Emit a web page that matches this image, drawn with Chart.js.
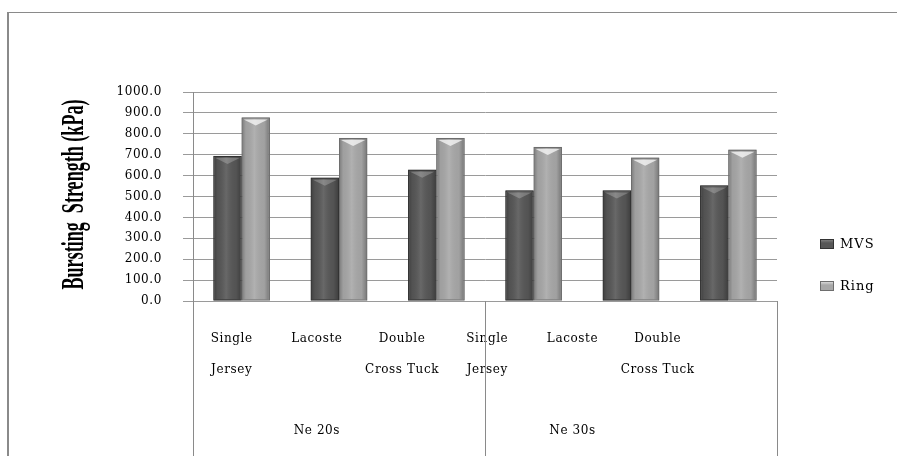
<!DOCTYPE html>
<html>
<head>
<meta charset="utf-8">
<script src="https://cdn.jsdelivr.net/npm/chart.js@4.4.1/dist/chart.umd.min.js"></script>
<style>
  html, body { margin: 0; padding: 0; background: #fff; }
  #wrap { width: 897px; height: 456px; }
</style>
</head>
<body>
<div id="wrap"><canvas id="chart"></canvas></div>
<script>
// data
const categories = [["Single", "Jersey"], ["Lacoste"], ["Double", "Cross Tuck"],
                    ["Single", "Jersey"], ["Lacoste"], ["Double", "Cross Tuck"]];
const groups = ["Ne 20s", "Ne 30s"];
const groupSpans = [[0, 2], [3, 5]];
const mvsValues = [694, 590, 628, 529, 529, 553];
const ringValues = [878, 780, 780, 737, 686, 724];
const yTitle = "Bursting  Strength (kPa)";

const serif = '"DejaVu Serif", serif';

// frame round the picture, and a bit of letter spacing for all tick text
const framePlugin = {
  id: "frame",
  beforeDraw(chart) {
    const ctx = chart.ctx;
    ctx.save();
    ctx.strokeStyle = "#8a8a8a";
    ctx.lineWidth = 1;
    ctx.beginPath();
    ctx.moveTo(7, 12.5);
    ctx.lineTo(chart.width, 12.5);
    ctx.stroke();
    ctx.lineWidth = 2;
    ctx.beginPath();
    ctx.moveTo(8, 12);
    ctx.lineTo(8, chart.height);
    ctx.stroke();
    ctx.restore();
    ctx.save();
    ctx.letterSpacing = "0.6px";
  },
  afterDraw(chart) {
    chart.ctx.restore();
  }
};

// cylinder-ish shading on top of each bar
const shadePlugin = {
  id: "shade",
  afterDatasetsDraw(chart) {
    const ctx = chart.ctx;
    ctx.save();
    chart.data.datasets.forEach((ds, di) => {
      chart.getDatasetMeta(di).data.forEach((el) => {
        const l = el.x - el.width / 2, r = el.x + el.width / 2;
        const t = el.y, b = el.base;
        const g = ctx.createLinearGradient(l, 0, r, 0);
        g.addColorStop(0, "rgba(0,0,0,0.28)");
        g.addColorStop(0.15, "rgba(0,0,0,0.05)");
        g.addColorStop(0.45, "rgba(255,255,255,0.10)");
        g.addColorStop(0.8, "rgba(0,0,0,0.04)");
        g.addColorStop(1, "rgba(0,0,0,0.30)");
        ctx.fillStyle = g;
        ctx.fillRect(l + 1, t + 1, r - l - 2, b - t - 2);
        // top chevron highlight
        ctx.fillStyle = di === 0 ? "rgba(255,255,255,0.22)" : "rgba(255,255,255,0.7)";
        ctx.beginPath();
        ctx.moveTo(l + 2, t + 2);
        ctx.lineTo(r - 2, t + 2);
        ctx.lineTo(el.x, t + 8);
        ctx.closePath();
        ctx.fill();
        ctx.strokeStyle = ds.borderColor;
        ctx.lineWidth = 1;
        ctx.strokeRect(l + 0.5, t + 0.5, r - l - 1, b - t - 1);
      });
    });
    ctx.restore();
  }
};

// vertical dividers of the two-level category axis, the y title and the legend
const axisExtras = {
  id: "axisExtras",
  afterDraw(chart) {
    const ctx = chart.ctx;
    const area = chart.chartArea;
    const xs = chart.scales.x;
    ctx.save();
    ctx.letterSpacing = "0px";
    ctx.strokeStyle = "#8a8a8a";
    ctx.lineWidth = 1;
    const lines = [area.left, area.right];
    for (let i = 0; i < groupSpans.length - 1; i++) {
      lines.push((xs.getPixelForValue(groupSpans[i][1]) + xs.getPixelForValue(groupSpans[i + 1][0])) / 2);
    }
    lines.forEach((px) => {
      const x = Math.round(px) + 0.5;
      ctx.beginPath();
      ctx.moveTo(x, area.bottom);
      ctx.lineTo(x, chart.height);
      ctx.stroke();
    });

    // condensed bold serif title, rotated
    ctx.font = 'bold 32px "Liberation Serif", serif';
    const w = ctx.measureText(yTitle).width;
    ctx.translate(83, (area.top + area.bottom) / 2 - 2);
    ctx.rotate(-Math.PI / 2);
    ctx.scale(190 / w, 1);
    ctx.fillStyle = "#000";
    ctx.textAlign = "center";
    ctx.textBaseline = "alphabetic";
    ctx.fillText(yTitle, 0, 0);
    ctx.restore();

    // legend at the right
    ctx.save();
    ctx.font = "13px " + serif;
    ctx.letterSpacing = "1px";
    ctx.textBaseline = "middle";
    const ly = [244, 286];
    chart.data.datasets.forEach((ds, i) => {
      const y = ly[i];
      const g = ctx.createLinearGradient(0, y - 5, 0, y + 5);
      g.addColorStop(0, i === 0 ? "#8a8a8a" : "#e8e8e8");
      g.addColorStop(0.4, ds.backgroundColor);
      g.addColorStop(1, ds.backgroundColor);
      ctx.fillStyle = g;
      ctx.fillRect(820, y - 5, 14, 10);
      ctx.strokeStyle = ds.borderColor;
      ctx.strokeRect(820.5, y - 4.5, 13, 9);
      ctx.fillStyle = "#000";
      ctx.fillText(ds.label, 840, y + 1);
    });
    ctx.restore();
  }
};

new Chart(document.getElementById("chart"), {
  type: "bar",
  data: {
    labels: categories.map((c) => c.join(" ")),
    datasets: [
      {
        label: "MVS",
        data: mvsValues,
        backgroundColor: "#575757",
        borderColor: "#333333",
        borderWidth: 1,
        categoryPercentage: 0.58,
        barPercentage: 1.0
      },
      {
        label: "Ring",
        data: ringValues,
        backgroundColor: "#a8a8a8",
        borderColor: "#6e6e6e",
        borderWidth: 1,
        categoryPercentage: 0.58,
        barPercentage: 1.0
      }
    ]
  },
  options: {
    responsive: true,
    maintainAspectRatio: false,
    animation: false,
    layout: { padding: { top: 92, right: 120, left: 0, bottom: 0 } },
    plugins: {
      legend: { display: false },
      tooltip: { enabled: false }
    },
    scales: {
      x: { display: false },
      lab: {
        type: "linear",
        axis: "x",
        position: "bottom",
        weight: 1,
        offset: false,
        min: -0.454,
        max: 6.4,
        grid: { display: false, drawTicks: false, offset: false },
        border: { display: false },
        afterBuildTicks(scale) {
          scale.ticks = categories.map((c, i) => ({ value: i }));
        },
        afterFit(scale) { scale.height = 100; },
        ticks: {
          autoSkip: false,
          maxRotation: 0,
          padding: 22.5,
          color: "#000",
          font: { family: serif, size: 12, lineHeight: "31px" },
          callback: (v, i) => categories[i]
        }
      },
      grp: {
        type: "linear",
        axis: "x",
        position: "bottom",
        weight: 2,
        offset: false,
        min: -0.454,
        max: 6.4,
        grid: { display: false, drawTicks: false, offset: false },
        border: { display: false },
        afterBuildTicks(scale) {
          scale.ticks = groupSpans.map((s) => ({ value: (s[0] + s[1]) / 2 }));
        },
        afterFit(scale) { scale.height = 55; },
        ticks: {
          autoSkip: false,
          maxRotation: 0,
          padding: 23,
          color: "#000",
          font: { family: serif, size: 12, lineHeight: 1.2 },
          callback: (v, i) => groups[i]
        }
      },
      y: {
        min: 0,
        max: 1000,
        afterFit(scale) { scale.width = 193; },
        grid: { color: "#9a9a9a", lineWidth: 1, tickLength: 10 },
        border: { display: true, color: "#8a8a8a", width: 1 },
        ticks: {
          stepSize: 100,
          padding: 21,
          color: "#000",
          font: { family: serif, size: 12 },
          callback: (v) => v.toFixed(1)
        }
      }
    }
  },
  plugins: [framePlugin, shadePlugin, axisExtras]
});
</script>
</body>
</html>
